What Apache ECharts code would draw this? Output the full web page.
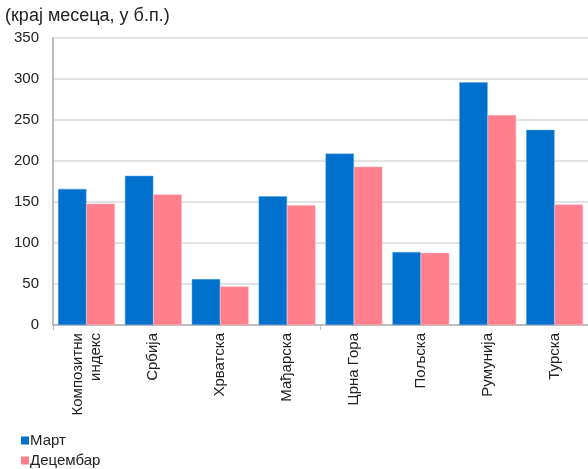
<!DOCTYPE html>
<html>
<head>
<meta charset="utf-8">
<script src="https://cdn.jsdelivr.net/npm/echarts@6/dist/echarts.min.js"></script>
<style>
  html, body { margin: 0; padding: 0; background: #fff; }
  #main { width: 588px; height: 469px; }
</style>
</head>
<body>
<div id="main"></div>
<script>
    var myChart = echarts.init(document.getElementById('main'));

    // категорије и вредности (б.п.)
    var categories = ['Композитни\nиндекс', 'Србија', 'Хрватска', 'Мађарска', 'Црна Гора', 'Пољска', 'Румунија', 'Турска'];
    var mart = [166, 182, 56, 157, 209, 89, 296, 238];
    var decembar = [148, 159, 47, 146, 193, 88, 256, 147];
    var yTicks = [0, 50, 100, 150, 200, 250, 300, 350];
    // подела осе на две половине (за подеоке)
    var tickGroups = ['', ''];

    var font = 'Liberation Sans, Arial, sans-serif';

    function legendFor(name, top) {
        return {
            orient: 'vertical',
            left: 16,
            top: top,
            itemWidth: 8,
            itemHeight: 8,
            itemGap: 0,
            icon: 'rect',
            itemStyle: { borderWidth: 0 },
            textStyle: { fontFamily: font, fontSize: 15, color: '#222', padding: [0, 0, 0, -4] },
            data: [name]
        };
    }

    var option = {
        animation: false,
        title: {
            text: '(крај месеца, у б.п.)',
            left: 0,
            top: 2,
            textStyle: { fontFamily: font, fontSize: 18, fontWeight: 'normal', color: '#222' }
        },
        legend: [legendFor('Март', 428), legendFor('Децембар', 448)],
        grid: { left: 53, top: 38, right: -3, bottom: 144, containLabel: false },
        xAxis: [
            {
                type: 'category',
                data: categories,
                axisLine: { lineStyle: { color: '#bdbdbd', width: 2 } },
                axisTick: { show: false },
                axisLabel: {
                    rotate: 90,
                    interval: 0,
                    margin: 8,
                    fontFamily: font,
                    fontSize: 15,
                    color: '#222',
                    lineHeight: 18
                }
            },
            {
                type: 'category',
                data: tickGroups,
                position: 'bottom',
                axisLine: { show: false },
                axisLabel: { show: false },
                axisTick: { show: true, length: 5, lineStyle: { color: '#bdbdbd', width: 1 } }
            }
        ],
        yAxis: {
            type: 'value',
            min: yTicks[0],
            max: yTicks[yTicks.length - 1],
            interval: 50,
            axisLine: { show: true, lineStyle: { color: '#bdbdbd', width: 2 } },
            axisTick: { show: false },
            splitLine: { lineStyle: { color: '#e3e3e3', width: 2 } },
            axisLabel: { margin: 14, fontFamily: font, fontSize: 15, color: '#222' }
        },
        series: [
            {
                name: 'Март',
                type: 'bar',
                data: mart,
                barGap: '0%',
                barCategoryGap: '15%',
                itemStyle: { color: '#0070CD', borderColor: '#5aa5e6', borderWidth: 0.5 }
            },
            {
                name: 'Децембар',
                type: 'bar',
                data: decembar,
                itemStyle: { color: '#FF7F8C', borderColor: '#ffb0b8', borderWidth: 0.5 }
            }
        ]
    };

    myChart.setOption(option);

    window.addEventListener('resize', function () {
        myChart.resize();
    });
</script>
</body>
</html>
